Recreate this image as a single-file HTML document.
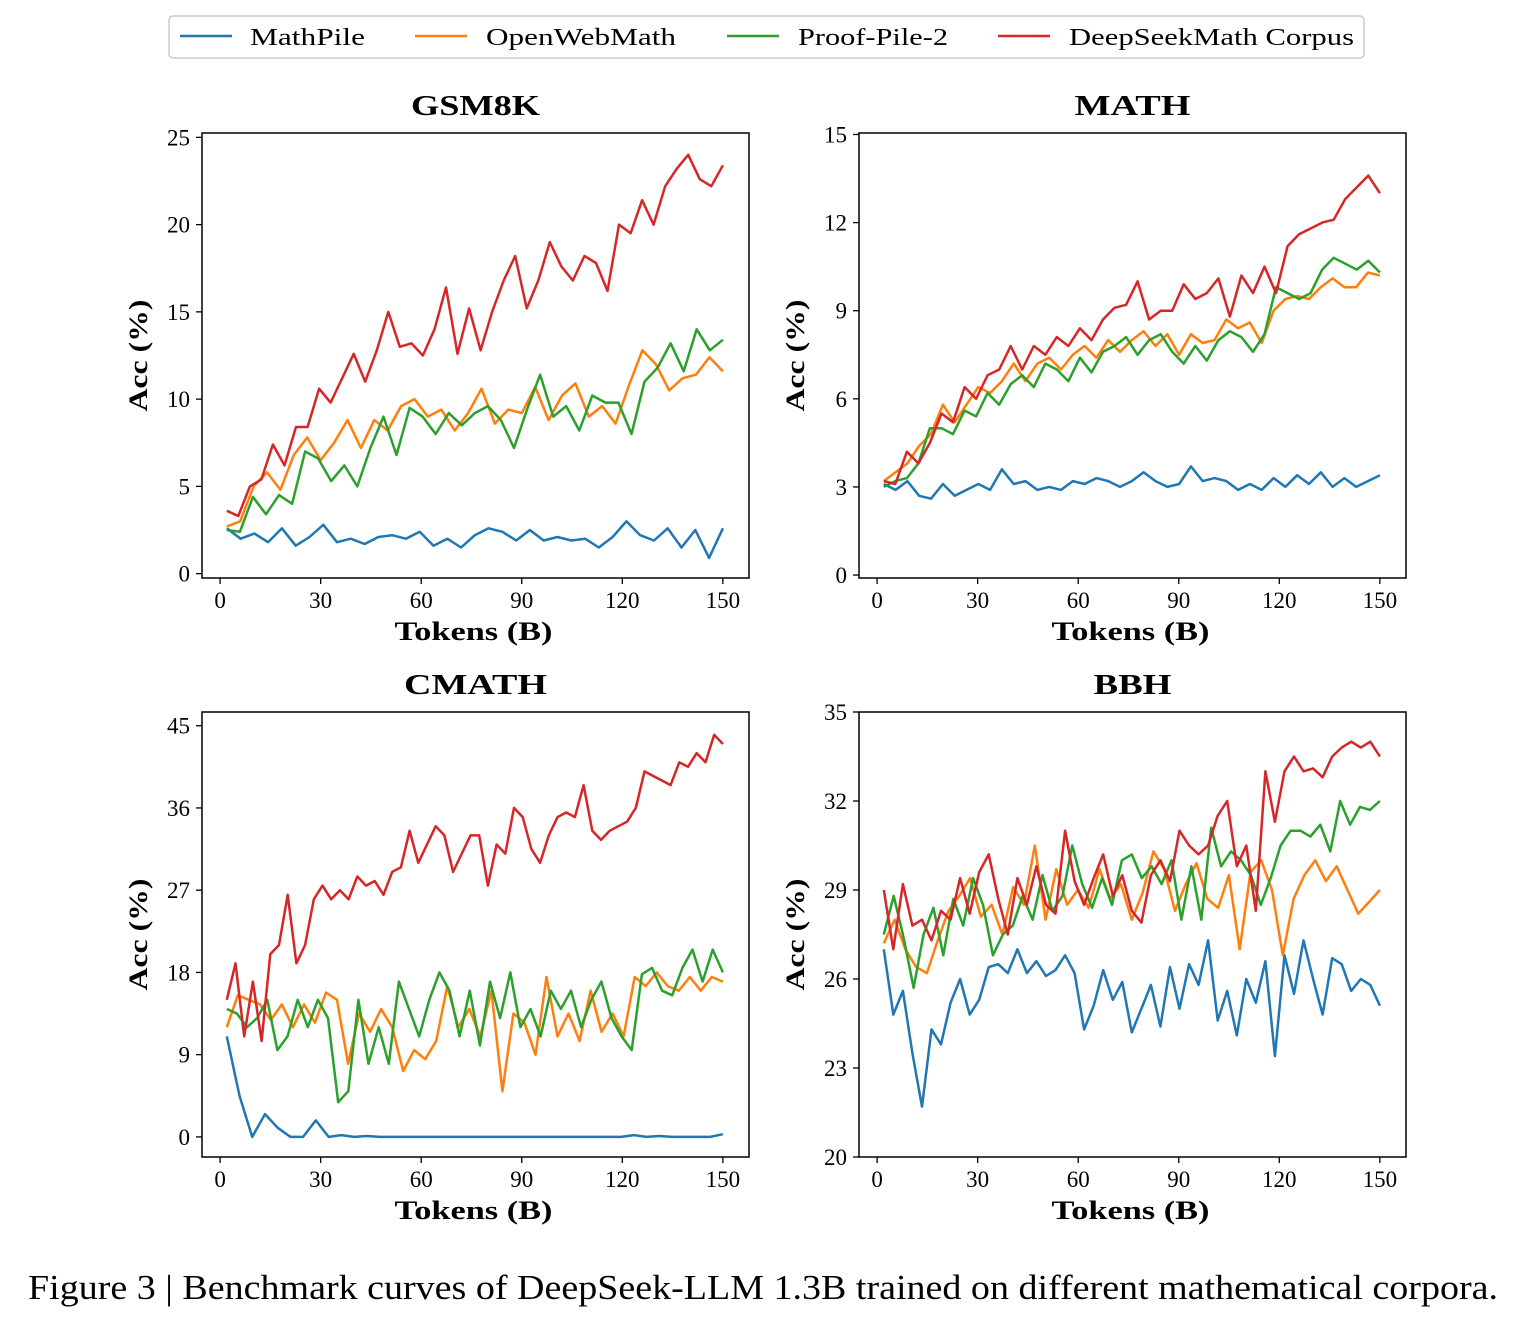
<!DOCTYPE html>
<html><head><meta charset="utf-8"><style>
body{margin:0;background:#fff;width:1524px;height:1326px;overflow:hidden;font-family:"Liberation Serif",serif}
svg text{font-family:"Liberation Serif",serif}
</style></head><body>
<svg id="fig" width="1524" height="1326" xmlns="http://www.w3.org/2000/svg">
<g>
<rect x="169" y="16" width="1195" height="42" rx="4" fill="#fff" stroke="#ccc" stroke-width="1.5"/>
<line x1="180" y1="36" x2="232" y2="36" stroke="#1f77b4" stroke-width="2.5"/><text x="250" y="45" font-size="24" textLength="115" lengthAdjust="spacingAndGlyphs">MathPile</text>
<line x1="415" y1="36" x2="467" y2="36" stroke="#ff7f0e" stroke-width="2.5"/><text x="486" y="45" font-size="24" textLength="190" lengthAdjust="spacingAndGlyphs">OpenWebMath</text>
<line x1="727" y1="36" x2="779" y2="36" stroke="#2ca02c" stroke-width="2.5"/><text x="798" y="45" font-size="24" textLength="150" lengthAdjust="spacingAndGlyphs">Proof-Pile-2</text>
<line x1="998" y1="36" x2="1050" y2="36" stroke="#d62728" stroke-width="2.5"/><text x="1069" y="45" font-size="24" textLength="285" lengthAdjust="spacingAndGlyphs">DeepSeekMath Corpus</text>
</g>
<text x="28" y="1299" font-size="35" textLength="1470" lengthAdjust="spacingAndGlyphs">Figure 3 | Benchmark curves of DeepSeek-LLM 1.3B trained on different mathematical corpora.</text>
</svg>
<script>
const colors=["#1f77b4","#ff7f0e","#2ca02c","#d62728"];
const seriesNames=["mathpile","openwebmath","proofpile2","deepseekmath"];
const xTicks=[0,30,60,90,120,150];
const gsmTicks=[0,5,10,15,20,25];
const mathTicks=[0,3,6,9,12,15];
const cmathTicks=[0,9,18,27,36,45];
const bbhTicks=[20,23,26,29,32,35];
const gsmMP=[2.6,2.0,2.3,1.8,2.6,1.6,2.1,2.8,1.8,2.0,1.7,2.1,2.2,2.0,2.4,1.6,2.0,1.5,2.2,2.6,2.4,1.9,2.5,1.9,2.1,1.9,2.0,1.5,2.1,3.0,2.2,1.9,2.6,1.5,2.5,0.9,2.6];
const gsmOWM=[2.7,3.0,5.0,5.8,4.8,6.8,7.8,6.5,7.5,8.8,7.2,8.8,8.2,9.6,10.0,9.0,9.4,8.2,9.2,10.6,8.6,9.4,9.2,10.7,8.8,10.2,10.9,9.0,9.6,8.6,10.8,12.8,12.0,10.5,11.2,11.4,12.4,11.6];
const gsmPP2=[2.5,2.4,4.4,3.4,4.5,4.0,7.0,6.6,5.3,6.2,5.0,7.2,9.0,6.8,9.5,9.0,8.0,9.2,8.5,9.2,9.6,8.8,7.2,9.4,11.4,9.0,9.6,8.2,10.2,9.8,9.8,8.0,11.0,11.8,13.2,11.6,14.0,12.8,13.4];
const gsmDSM=[3.6,3.3,5.0,5.4,7.4,6.2,8.4,8.4,10.6,9.8,11.2,12.6,11.0,12.8,15.0,13.0,13.2,12.5,14.0,16.4,12.6,15.2,12.8,15.0,16.8,18.2,15.2,16.8,19.0,17.6,16.8,18.2,17.8,16.2,20.0,19.5,21.4,20.0,22.2,23.2,24.0,22.6,22.2,23.4];
const mathMP=[3.1,2.9,3.2,2.7,2.6,3.1,2.7,2.9,3.1,2.9,3.6,3.1,3.2,2.9,3.0,2.9,3.2,3.1,3.3,3.2,3.0,3.2,3.5,3.2,3.0,3.1,3.7,3.2,3.3,3.2,2.9,3.1,2.9,3.3,3.0,3.4,3.1,3.5,3.0,3.3,3.0,3.2,3.4];
const mathOWM=[3.2,3.5,3.8,4.4,4.8,5.8,5.2,5.8,6.4,6.2,6.6,7.2,6.6,7.2,7.4,7.0,7.5,7.8,7.4,8.0,7.6,8.0,8.3,7.8,8.2,7.5,8.2,7.9,8.0,8.7,8.4,8.6,7.9,9.0,9.4,9.5,9.4,9.8,10.1,9.8,9.8,10.3,10.2];
const mathPP2=[3.0,3.2,3.3,3.8,5.0,5.0,4.8,5.6,5.4,6.2,5.8,6.5,6.8,6.4,7.2,7.0,6.6,7.4,6.9,7.6,7.8,8.1,7.5,8.0,8.2,7.6,7.2,7.8,7.3,8.0,8.3,8.1,7.6,8.2,9.8,9.6,9.4,9.6,10.4,10.8,10.6,10.4,10.7,10.3];
const mathDSM=[3.2,3.1,4.2,3.8,4.5,5.5,5.2,6.4,6.0,6.8,7.0,7.8,7.0,7.8,7.5,8.1,7.8,8.4,8.0,8.7,9.1,9.2,10.0,8.7,9.0,9.0,9.9,9.4,9.6,10.1,8.8,10.2,9.6,10.5,9.6,11.2,11.6,11.8,12.0,12.1,12.8,13.2,13.6,13.0];
const cmathMP=[11,4.5,0,2.5,1,0,0,1.8,0,0.2,0,0.1,0,0,0,0,0,0,0,0,0,0,0,0,0,0,0,0,0,0,0,0,0.2,0,0.1,0,0,0,0,0.3];
const cmathOWM=[12,15.5,15,14.5,12.8,14.5,12.0,14.5,12.5,15.8,15.0,8.0,13.5,11.5,14.0,12.0,7.2,9.5,8.5,10.5,16.5,12.0,14.0,11.0,16.0,5.0,13.5,12.5,9.0,17.5,11.0,13.5,10.5,16.0,11.5,13.5,11.0,17.5,16.5,18.0,16.5,16.0,17.5,16.0,17.5,17.0];
const cmathPP2=[14,13.5,12,13,15,9.5,11,15,12,15,13,3.8,5,15,8,12,8,17,14,11,15,18,16,11,16,10,17,13,18,12,14,11,16,14,16,12,15,17,13,11,9.5,17.8,18.5,16,15.5,18.5,20.5,17,20.5,18];
const cmathDSM=[15,19,11,17,10.5,20,21,26.5,19,21,26,27.5,26,27,26,28.5,27.5,28,26.5,29,29.5,33.5,30,32,34,33,29,31,33,33,27.5,32,31,36,35,31.5,30,33,35,35.5,35,38.5,33.5,32.5,33.5,34,34.5,36,40,39.5,39,38.5,41,40.5,42,41,44,43];
const bbhMP=[27,24.8,25.6,23.5,21.7,24.3,23.8,25.2,26.0,24.8,25.3,26.4,26.5,26.2,27.0,26.2,26.6,26.1,26.3,26.8,26.2,24.3,25.1,26.3,25.3,25.9,24.2,25.0,25.8,24.4,26.4,25.0,26.5,25.8,27.3,24.6,25.6,24.1,26.0,25.2,26.6,23.4,26.8,25.5,27.3,26.0,24.8,26.7,26.5,25.6,26.0,25.8,25.1];
const bbhOWM=[27.2,28.0,27.0,26.4,26.2,27.3,28.3,28.8,29.4,28.1,28.5,27.5,29.1,28.5,30.5,28.0,29.7,28.5,29.0,28.4,29.7,28.7,29.2,28.0,28.9,30.3,29.7,28.3,29.2,29.9,28.7,28.4,29.5,27.0,29.6,30.0,29.0,26.8,28.7,29.5,30.0,29.3,29.8,29.0,28.2,28.6,29.0];
const bbhPP2=[27.5,28.8,27.4,25.7,27.5,28.4,26.8,28.7,27.8,29.4,28.5,26.8,27.5,27.8,28.8,28.0,29.5,28.3,28.8,30.5,29.2,28.4,29.4,28.5,30.0,30.2,29.4,29.8,29.2,30.0,28.0,29.8,28.0,31.1,29.8,30.3,30.0,29.5,28.5,29.4,30.5,31.0,31.0,30.8,31.2,30.3,32.0,31.2,31.8,31.7,32.0];
const bbhDSM=[29,27,29.2,27.8,28.0,27.3,28.3,28.0,29.4,28.2,29.6,30.2,28.7,27.5,29.4,28.5,29.8,28.5,28.2,31.0,29.3,28.5,29.4,30.2,28.8,29.5,28.3,27.9,29.5,30.0,29.3,31.0,30.5,30.2,30.5,31.5,32.0,29.8,30.5,28.3,33.0,31.3,33.0,33.5,33.0,33.1,32.8,33.5,33.8,34.0,33.8,34.0,33.5];

const NS="http://www.w3.org/2000/svg";
const svg=document.getElementById('fig');
function mk(tag,attrs,parent){const e=document.createElementNS(NS,tag);for(const k in attrs)e.setAttribute(k,attrs[k]);parent.appendChild(e);return e;}
const panels=[
 {name:"gsm8k",title:"GSM8K",tw:129,left:202,top:133,ymin:-0.25,ymax:25.25,ticks:gsmTicks,series:[gsmMP,gsmOWM,gsmPP2,gsmDSM]},
 {name:"math",title:"MATH",tw:116,left:859,top:133,ymin:-0.1,ymax:15.05,ticks:mathTicks,series:[mathMP,mathOWM,mathPP2,mathDSM]},
 {name:"cmath",title:"CMATH",tw:143,left:202,top:712,ymin:-2.2,ymax:46.5,ticks:cmathTicks,series:[cmathMP,cmathOWM,cmathPP2,cmathDSM]},
 {name:"bbh",title:"BBH",tw:78,left:859,top:712,ymin:20,ymax:35,ticks:bbhTicks,series:[bbhMP,bbhOWM,bbhPP2,bbhDSM]}
];
const W=547,H=445,XMIN=-5.4,XMAX=157.8;
panels.forEach(p=>{
 const g=mk('g',{},svg);
 
 
 const xs=v=>p.left+(v-XMIN)/(XMAX-XMIN)*W;
 const ys=v=>p.top+H-(v-p.ymin)/(p.ymax-p.ymin)*H;
 const t=mk('text',{x:p.left+W/2,y:p.top-18,'font-size':29,'font-weight':'bold','text-anchor':'middle',textLength:p.tw,lengthAdjust:'spacingAndGlyphs'},g);
 t.textContent=p.title;
 
 
 const cp='clip-'+p.name;
 const cd=mk('clipPath',{id:cp},g);mk('rect',{x:p.left,y:p.top,width:W,height:H},cd);
 p.series.forEach((arr,si)=>{
  const n=arr.length;
  const pts=arr.map((v,i)=>xs(2+i*148/(n-1)).toFixed(1)+','+ys(v).toFixed(1)).join(' ');
  const pl=mk('polyline',{points:pts,fill:'none',stroke:colors[si],'stroke-width':2.5,'stroke-linejoin':'round','clip-path':'url(#'+cp+')'},g);
  
  
 });
 mk('rect',{x:p.left,y:p.top,width:W,height:H,fill:'none',stroke:'#000','stroke-width':1.5},g);
 xTicks.forEach(v=>{
  const x=xs(v);
  mk('line',{x1:x,x2:x,y1:p.top+H,y2:p.top+H+6,stroke:'#000','stroke-width':1.3},g);
  const tx=mk('text',{x:x,y:p.top+H+30,'font-size':23,'text-anchor':'middle'},g);
  tx.textContent=v;
  
  
 });
 p.ticks.forEach(v=>{
  const y=ys(v);
  mk('line',{x1:p.left-6,x2:p.left,y1:y,y2:y,stroke:'#000','stroke-width':1.3},g);
  const ty=mk('text',{x:p.left-12,y:y+8,'font-size':23,'text-anchor':'end'},g);
  ty.textContent=v;
  
  
 });
 const xl=mk('text',{x:p.left+W/2-2,y:p.top+H+62,'font-size':26,'font-weight':'bold','text-anchor':'middle',textLength:158,lengthAdjust:'spacingAndGlyphs'},g);
 xl.textContent='Tokens (B)';
 
 
 const yl=mk('text',{x:0,y:0,'font-size':26,'font-weight':'bold','text-anchor':'middle',textLength:112,lengthAdjust:'spacingAndGlyphs',transform:'translate('+(p.left-55)+','+(p.top+H/2)+') rotate(-90)'},g);
 yl.textContent='Acc (%)';
 
 
});
</script>
</body></html>
